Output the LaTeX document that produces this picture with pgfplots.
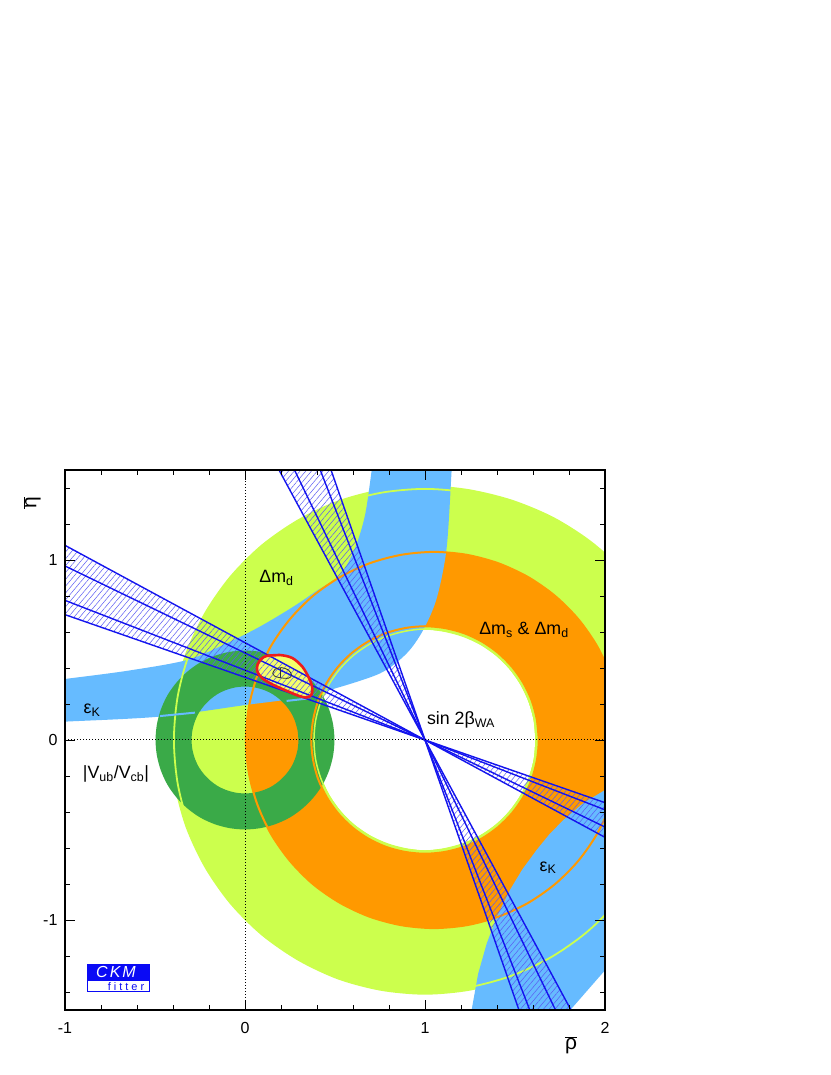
\documentclass[border=0pt]{standalone}
\usepackage{fontspec}
\setmainfont{Liberation Sans}
\usepackage{pgfplots}
\pgfplotsset{compat=1.18}
\usetikzlibrary{patterns.meta}
\definecolor{lgreen}{HTML}{CCFF4D}
\definecolor{orng}{HTML}{FF9900}
\definecolor{lblue}{HTML}{66BBFF}
\definecolor{dgreen}{HTML}{3AAA48}
\definecolor{yel}{HTML}{F4FF6A}
\definecolor{cred}{HTML}{EE1C1C}
\definecolor{lineblue}{HTML}{1414EE}
\definecolor{logoblue}{HTML}{0A0AF5}
\newcommand{\lab}{\fontsize{17.8}{20}\selectfont}
\begin{document}
\begin{tikzpicture}
\path[use as bounding box] (0,0) rectangle (830pt,1075pt);
\begin{axis}[
  at={(65pt,65pt)}, anchor=south west,
  scale only axis, width=540pt, height=540pt,
  xmin=-1, xmax=2, ymin=-1.5, ymax=1.5,
  xtick={-1,0,1,2}, xticklabels={-1,0,1,2},
  ytick={-1,0,1}, yticklabels={-1,0,1},
  minor xtick={-0.8,-0.6,-0.4,-0.2,0.2,0.4,0.6,0.8,1.2,1.4,1.6,1.8},
  minor ytick={-1.4,-1.2,-0.8,-0.6,-0.4,-0.2,0.2,0.4,0.6,0.8,1.2,1.4},
  tick align=inside, tick pos=both,
  major tick length=10pt, minor tick length=5pt,
  every tick/.style={black, line width=0.8pt},
  axis line style={line width=1.1pt},
  ticklabel style={font=\fontsize{16}{16}\selectfont},
  xticklabel style={yshift=-9pt},
  yticklabel style={xshift=-4pt},
  axis on top,
]
% Delta m_d (light green annulus)
\addplot[fill=lgreen, draw=none, smooth] coordinates {
(2.45,0) (2.428,.252) (2.363,.496) (2.256,.725) (2.111,.932) (1.926,1.103) (1.715,1.238) (1.486,1.334) (1.246,1.393) (1,1.415) (.754,1.393) (.516,1.330) (.293,1.225) (.090,1.084) (-.084,.910) (-.225,.708) (-.330,.484) (-.393,.246) (-.415,0) (-.393,-.246) (-.330,-.484) (-.225,-.708) (-.084,-.910) (.090,-1.084) (.293,-1.225) (.516,-1.330) (.754,-1.393) (1,-1.415) (1.246,-1.393) (1.484,-1.330) (1.708,-1.225) (1.910,-1.084) (2.084,-.910) (2.225,-.708) (2.330,-.484) (2.393,-.246) (2.45,0)};
% Delta m_s & Delta m_d (orange)
\addplot[fill=orng, draw=none, smooth] coordinates {
(2.095,0) (2.079,.181) (2.032,.357) (1.955,.523) (1.851,.672) (1.722,.801) (1.573,.905) (1.407,.982) (1.231,1.029) (1.05,1.045) (.869,1.029) (.693,.982) (.528,.905) (.378,.801) (.250,.672) (.145,.523) (.068,.357) (.021,.181) (.005,0) (.021,-.181) (.068,-.357) (.145,-.523) (.250,-.672) (.378,-.801) (.528,-.905) (.693,-.982) (.869,-1.029) (1.05,-1.045) (1.231,-1.029) (1.407,-.982) (1.573,-.905) (1.722,-.801) (1.851,-.672) (1.955,-.523) (2.032,-.357) (2.079,-.181) (2.095,0)};
\addplot[fill=lgreen, draw=none, smooth] coordinates {
(1.632,0) (1.622,.110) (1.594,.216) (1.547,.316) (1.484,.406) (1.406,.484) (1.316,.547) (1.216,.594) (1.110,.622) (1,.632) (.890,.622) (.784,.594) (.684,.547) (.594,.484) (.516,.406) (.453,.316) (.406,.216) (.378,.110) (.368,0) (.378,-.110) (.406,-.216) (.453,-.316) (.516,-.406) (.594,-.484) (.684,-.547) (.784,-.594) (.890,-.622) (1,-.632) (1.110,-.622) (1.216,-.594) (1.316,-.547) (1.406,-.484) (1.484,-.406) (1.547,-.316) (1.594,-.216) (1.622,-.110) (1.632,0)};
\addplot[fill=white, draw=none, smooth] coordinates {
(1.612,0) (1.603,.106) (1.575,.209) (1.530,.306) (1.469,.393) (1.393,.469) (1.306,.530) (1.209,.575) (1.106,.603) (1,.612) (.894,.603) (.791,.575) (.694,.530) (.607,.469) (.531,.393) (.470,.306) (.425,.209) (.397,.106) (.388,0) (.397,-.106) (.425,-.209) (.470,-.306) (.531,-.393) (.607,-.469) (.694,-.530) (.791,-.575) (.894,-.603) (1,-.612) (1.106,-.603) (1.209,-.575) (1.306,-.530) (1.393,-.469) (1.469,-.393) (1.530,-.306) (1.575,-.209) (1.603,-.106) (1.612,0)};
% epsilon_K bands
\addplot[fill=lblue, draw=none, smooth] coordinates {
(-1.1,.327) (-1,.339) (-.65,.385) (-.324,.444) (-.102,.537) (.083,.63) (.269,.741) (.4,.83) (.528,.915) (.611,1.065) (.667,1.25) (.704,1.5) (.715,1.58) (.73,1.7) (1.16,1.7) (1.152,1.58) (1.148,1.5) (1.12,1.065) (1.065,.787) (.99,.611) (.898,.481) (.75,.37) (.472,.278) (.27,.23) (0,.194) (-.472,.13) (-1,.102) (-1.1,.097) (-1.1,.327)};
\addplot[fill=lblue, draw=none] coordinates {
(1.235,-1.6) (1.259,-1.5) (1.295,-1.3) (1.343,-1.13) (1.40,-.98) (1.472,-.833) (1.54,-.72) (1.62,-.611) (1.69,-.525) (1.769,-.444) (1.88,-.35) (2,-.278) (2.2,-.17) (2.2,-1.05) (1.72,-1.6) (1.235,-1.6)};
% |Vub/Vcb| (dark green annulus)
\addplot[draw=dgreen, line width=36pt, smooth] coordinates {
(.397,0) (.391,.069) (.373,.136) (.344,.199) (.304,.255) (.255,.304) (.199,.344) (.136,.373) (.069,.391) (0,.397) (-.069,.391) (-.136,.373) (-.199,.344) (-.255,.304) (-.304,.255) (-.344,.199) (-.373,.136) (-.391,.069) (-.397,0) (-.391,-.069) (-.373,-.136) (-.344,-.199) (-.304,-.255) (-.255,-.304) (-.199,-.344) (-.136,-.373) (-.069,-.391) (0,-.397) (.069,-.391) (.136,-.373) (.199,-.344) (.255,-.304) (.304,-.255) (.344,-.199) (.373,-.136) (.391,-.069) (.397,0) (.391,.069) (.373,.136)};
% contour lines
\addplot[draw=lgreen, line width=1.8pt, smooth] coordinates {
(2.395,0) (2.374,.242) (2.311,.477) (2.208,.698) (2.069,.897) (1.897,1.069) (1.698,1.208) (1.477,1.311) (1.242,1.374) (1,1.395) (.758,1.374) (.523,1.311) (.302,1.208) (.103,1.069) (-.069,.897) (-.208,.698) (-.311,.477) (-.374,.242) (-.395,0) (-.374,-.242) (-.311,-.477) (-.208,-.698) (-.069,-.897) (.103,-1.069) (.302,-1.208) (.523,-1.311) (.758,-1.374) (1,-1.395) (1.242,-1.374) (1.477,-1.311) (1.698,-1.208) (1.897,-1.069) (2.069,-.897) (2.208,-.698) (2.311,-.477) (2.374,-.242) (2.395,0) (2.374,.242)};
\addplot[draw=orng, line width=2pt, smooth] coordinates {
(2.095,0) (2.079,.181) (2.032,.357) (1.955,.523) (1.851,.672) (1.722,.801) (1.573,.905) (1.407,.982) (1.231,1.029) (1.05,1.045) (.869,1.029) (.693,.982) (.528,.905) (.378,.801) (.250,.672) (.145,.523) (.068,.357) (.021,.181) (.005,0) (.021,-.181) (.068,-.357) (.145,-.523) (.250,-.672) (.378,-.801) (.528,-.905) (.693,-.982) (.869,-1.029) (1.05,-1.045) (1.231,-1.029) (1.407,-.982) (1.573,-.905) (1.722,-.801) (1.851,-.672) (1.955,-.523) (2.032,-.357) (2.079,-.181) (2.095,0) (2.079,.181)};
\addplot[draw=orng, line width=2pt, smooth] coordinates {
(1.632,0) (1.622,.110) (1.594,.216) (1.547,.316) (1.484,.406) (1.406,.484) (1.316,.547) (1.216,.594) (1.110,.622) (1,.632) (.890,.622) (.784,.594) (.684,.547) (.594,.484) (.516,.406) (.453,.316) (.406,.216) (.378,.110) (.368,0) (.378,-.110) (.406,-.216) (.453,-.316) (.516,-.406) (.594,-.484) (.684,-.547) (.784,-.594) (.890,-.622) (1,-.632) (1.110,-.622) (1.216,-.594) (1.316,-.547) (1.406,-.484) (1.484,-.406) (1.547,-.316) (1.594,-.216) (1.622,-.110) (1.632,0) (1.622,.110)};
\addplot[draw=lgreen, line width=1.5pt, smooth] coordinates {
(1.617,0) (1.608,.107) (1.580,.210) (1.534,.308) (1.473,.395) (1.397,.471) (1.309,.532) (1.211,.577) (1.107,.605) (1,.617) (.893,.605) (.789,.577) (.691,.532) (.603,.471) (.527,.395) (.466,.308) (.420,.210) (.392,.107) (.383,0) (.392,-.107) (.420,-.210) (.466,-.308) (.527,-.395) (.603,-.471) (.691,-.532) (.789,-.577) (.893,-.605) (1,-.617) (1.107,-.605) (1.211,-.577) (1.309,-.532) (1.397,-.471) (1.473,-.395) (1.534,-.308) (1.580,-.210) (1.608,-.107) (1.617,0) (1.608,.107)};
\addplot[draw=lblue, line width=2pt] coordinates {(-.472,.133) (-.278,.152)};
\addplot[draw=lblue, line width=2pt] coordinates {(.231,.217) (.352,.231)};
% global fit contour fill
\addplot[fill=yel, draw=none, smooth] coordinates {
(.120,.467) (.194,.472) (.262,.456) (.318,.408) (.355,.345) (.374,.290) (.368,.250) (.340,.236) (.300,.245) (.241,.269) (.157,.306) (.096,.343) (.068,.382) (.070,.420) (.090,.450) (.120,.467)};
% sin 2beta wedges (hatched)
\addplot[draw=none, pattern={Lines[angle=50,distance=4.4pt,line width=0.5pt]}, pattern color=lineblue!70] coordinates {(1,0) (-1,.6964) (-1,1.0814) (1,0)};
\addplot[draw=none, pattern={Lines[angle=50,distance=4.4pt,line width=0.5pt]}, pattern color=lineblue!70] coordinates {(1,0) (2,-.3482) (2,-.5407) (1,0)};
\addplot[draw=none, pattern={Lines[angle=50,distance=4.4pt,line width=0.5pt]}, pattern color=lineblue!70] coordinates {(1,0) (.478,1.5) (.189,1.5) (1,0)};
\addplot[draw=none, pattern={Lines[angle=50,distance=4.4pt,line width=0.5pt]}, pattern color=lineblue!70] coordinates {(1,0) (1.522,-1.5) (1.811,-1.5) (1,0)};
\addplot[draw=lineblue, line width=1.4pt] coordinates {(-1,.6964) (2,-.3482)};
\addplot[draw=lineblue, line width=1.4pt] coordinates {(-1,.7758) (2,-.3879)};
\addplot[draw=lineblue, line width=1.4pt] coordinates {(-1,.9668) (2,-.4834)};
\addplot[draw=lineblue, line width=1.4pt] coordinates {(-1,1.0814) (2,-.5407)};
\addplot[draw=lineblue, line width=1.4pt] coordinates {(.189,1.5) (1.811,-1.5)};
\addplot[draw=lineblue, line width=1.4pt] coordinates {(.275,1.5) (1.725,-1.5)};
\addplot[draw=lineblue, line width=1.4pt] coordinates {(.418,1.5) (1.582,-1.5)};
\addplot[draw=lineblue, line width=1.4pt] coordinates {(.478,1.5) (1.522,-1.5)};
% global fit contours
\addplot[draw=cred, line width=2.6pt, smooth] coordinates {
(.120,.467) (.194,.472) (.262,.456) (.318,.408) (.355,.345) (.374,.290) (.368,.250) (.340,.236) (.300,.245) (.241,.269) (.157,.306) (.096,.343) (.068,.382) (.070,.420) (.090,.450) (.120,.467) (.194,.472)};
\addplot[draw=black!80, line width=0.8pt, smooth] coordinates {
(.154,.370) (.167,.393) (.204,.402) (.241,.389) (.259,.361) (.241,.343) (.194,.346) (.163,.356) (.154,.370) (.167,.393)};
\addplot[draw=black!80, line width=0.8pt] coordinates {(.194,.347) (.194,.401)};
% dotted axes
\addplot[black, dash pattern=on 1pt off 2pt, line width=1pt] coordinates {(-1,0) (2,0)};
\addplot[black, dash pattern=on 1pt off 2pt, line width=1pt] coordinates {(0,-1.5) (0,1.5)};
% labels
\node[font=\lab] at (axis cs:0.175,0.9) {Δm\textsubscript{d}};
\node[font=\lab] at (axis cs:1.55,0.61) {Δm\textsubscript{s} \& Δm\textsubscript{d}};
\node[font=\lab] at (axis cs:1.2,0.11) {sin 2β\textsubscript{WA}};
\node[font=\lab] at (axis cs:-0.85,0.165) {ε\textsubscript{K}};
\node[font=\lab] at (axis cs:1.683,-0.71) {ε\textsubscript{K}};
\node[font=\lab] at (axis cs:-0.717,-0.19) {|V\textsubscript{ub}/V\textsubscript{cb}|};
\end{axis}
% axis titles
\node[rotate=90, font=\fontsize{21}{21}\selectfont] at (32pt,572pt) {$\overline{\hbox{η}}$};
\node[font=\fontsize{21}{21}\selectfont] at (571pt,30pt) {$\overline{\hbox{ρ}}$};
% CKMfitter logo
\fill[logoblue] (87.3pt,94.3pt) rectangle (150pt,111pt);
\draw[logoblue, line width=0.8pt] (87.7pt,83.7pt) rectangle (149.6pt,94.3pt);
\node[white, font=\fontsize{16}{16}\selectfont\itshape] at (116pt,102.6pt) {C\kern2pt K\kern2pt M};
\node[logoblue, font=\fontsize{11}{11}\selectfont] at (126pt,88.6pt) {f\kern3pt i\kern3pt t\kern3pt t\kern3pt e\kern3pt r};
\end{tikzpicture}
\end{document}
